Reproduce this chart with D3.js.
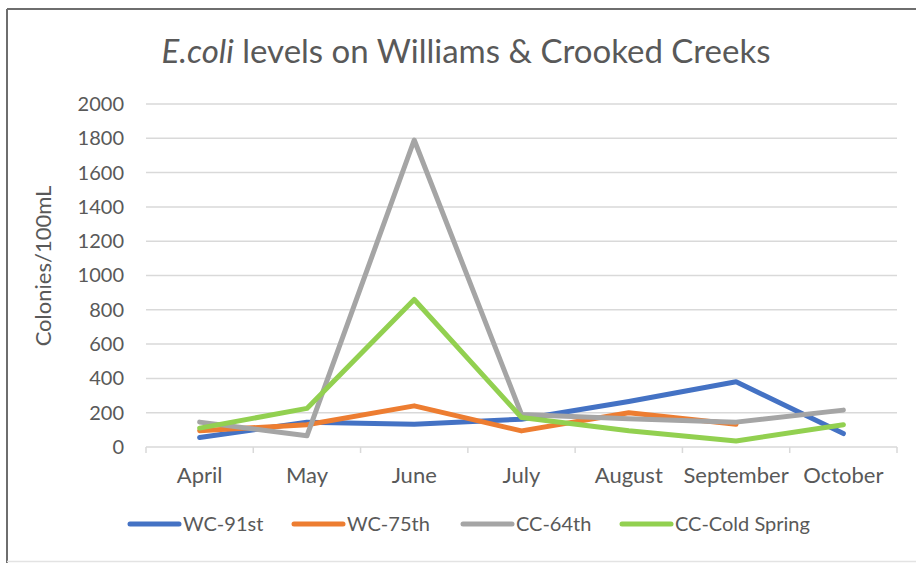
<!DOCTYPE html>
<html>
<head>
<meta charset="utf-8">
<script src="https://cdn.jsdelivr.net/npm/d3@7"></script>
<style>
  body { margin: 0; background: #fff; }
  text { font-family: Lato, "Open Sans", sans-serif; fill: #595959; }
</style>
</head>
<body>
<div id="chart"></div>
<script>
var width = 916;
var height = 563;

// data
var months = ["April", "May", "June", "July", "August", "September", "October"];
var seriesNames = ["WC-91st", "WC-75th", "CC-64th", "CC-Cold Spring"];
var seriesColors = ["#4472C4", "#ED7D31", "#A5A5A5", "#92D050"];
var wc91 = [55, 145, 133, 162, 265, 380, 78];
var wc75 = [95, 130, 240, 94, 200, 133, null];
var cc64 = [145, 65, 1790, 190, 165, 145, 215];
var ccCold = [110, 225, 860, 172, 95, 35, 130];
var yTicks = [0, 200, 400, 600, 800, 1000, 1200, 1400, 1600, 1800, 2000];

var allSeries = [wc91, wc75, cc64, ccCold];

var svg = d3.select("#chart")
    .append("svg")
    .attr("width", width)
    .attr("height", height);

//chart frame
svg.append("line")
    .attr("x1", 7).attr("y1", 9).attr("x2", width).attr("y2", 9)
    .attr("stroke", "#6e6e6e").attr("stroke-width", 2);
svg.append("line")
    .attr("x1", 7).attr("y1", 9).attr("x2", 7).attr("y2", height)
    .attr("stroke", "#6e6e6e").attr("stroke-width", 2);
svg.append("line")
    .attr("x1", 7).attr("y1", 561.5).attr("x2", width).attr("y2", 561.5)
    .attr("stroke", "#e3e3e3").attr("stroke-width", 1.5);

//scales
var x = d3.scaleBand()
    .domain(months)
    .range([146, 897]);

var y = d3.scaleLinear()
    .domain([0, 2000])
    .range([447, 104]);

//gridlines
svg.append("g")
    .selectAll("line")
    .data(yTicks)
    .enter()
    .append("line")
    .attr("x1", 146)
    .attr("x2", 897)
    .attr("y1", function(d) { return y(d); })
    .attr("y2", function(d) { return y(d); })
    .attr("stroke", "#d9d9d9")
    .attr("stroke-width", 1.5);

//y axis labels
var yAxis = svg.append("g")
    .attr("transform", "translate(128,0)")
    .call(d3.axisLeft(y).tickValues(yTicks).tickFormat(d3.format("d")).tickSize(0).tickPadding(4));
yAxis.select(".domain").remove();
yAxis.selectAll("text")
    .style("font-size", "20px")
    .style("font-family", "Lato, sans-serif")
    .attr("fill", "#595959");

//x axis: labels at centers, ticks between categories
var xAxis = svg.append("g")
    .attr("transform", "translate(0," + y(0) + ")")
    .call(d3.axisBottom(x).tickSize(0).tickPadding(20));
xAxis.select(".domain").remove();
xAxis.selectAll("text")
    .style("font-size", "22px")
    .style("font-family", "Lato, sans-serif")
    .attr("fill", "#595959");

var bounds = months.map(function(m) { return x(m); }).concat([x.range()[1]]);
svg.append("g")
    .selectAll("line")
    .data(bounds)
    .enter()
    .append("line")
    .attr("x1", function(d) { return d; })
    .attr("x2", function(d) { return d; })
    .attr("y1", y(0))
    .attr("y2", y(0) + 6)
    .attr("stroke", "#d9d9d9")
    .attr("stroke-width", 1.5);

//lines
var line = d3.line()
    .defined(function(d) { return d != null; })
    .x(function(d, i) { return x(months[i]) + x.bandwidth() / 2; })
    .y(function(d) { return y(d); });

for (var i = 0; i < allSeries.length; i++) {
    svg.append("path")
        .datum(allSeries[i])
        .attr("d", line)
        .attr("fill", "none")
        .attr("stroke", seriesColors[i])
        .attr("stroke-width", 5)
        .attr("stroke-linejoin", "round")
        .attr("stroke-linecap", "round");
}

//title
var title = svg.append("text")
    .attr("x", 466)
    .attr("y", 63)
    .attr("text-anchor", "middle")
    .style("font-size", "33px");
title.append("tspan").style("font-style", "italic").text("E.coli");
title.append("tspan").text(" levels on Williams & Crooked Creeks");

//y axis title
svg.append("text")
    .attr("transform", "translate(51,266) rotate(-90)")
    .attr("text-anchor", "middle")
    .style("font-size", "22px")
    .text("Colonies/100mL");

//legend
var legendX = [128, 292, 461, 620];
for (var j = 0; j < seriesNames.length; j++) {
    svg.append("line")
        .attr("x1", legendX[j] + 2)
        .attr("x2", legendX[j] + 51)
        .attr("y1", 524)
        .attr("y2", 524)
        .attr("stroke", seriesColors[j])
        .attr("stroke-width", 5)
        .attr("stroke-linecap", "round");
    svg.append("text")
        .attr("x", legendX[j] + 55)
        .attr("y", 531)
        .style("font-size", "20px")
        .text(seriesNames[j]);
}
</script>
</body>
</html>
